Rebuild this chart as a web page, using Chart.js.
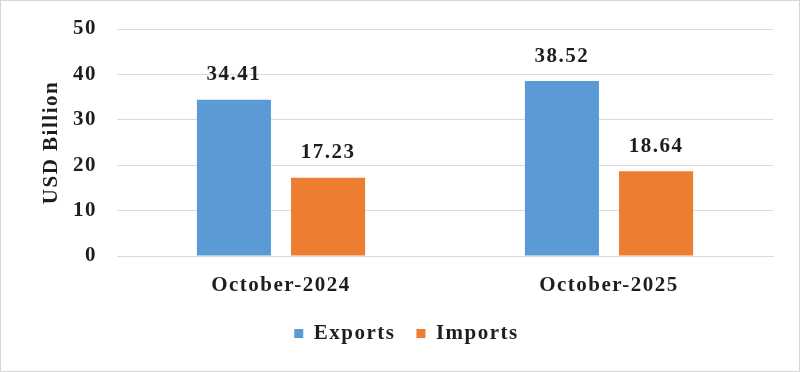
<!DOCTYPE html>
<html>
<head>
<meta charset="utf-8">
<script src="https://cdn.jsdelivr.net/npm/chart.js@4.4.1/dist/chart.umd.min.js"></script>
<style>
  html, body { margin: 0; padding: 0; background: #fff; }
  .frame { width: 800px; height: 372px; box-sizing: border-box; border: 1px solid #d6d6d6; }
  .frame canvas { display: block; }
</style>
</head>
<body>
<div class="frame">
  <canvas id="tradeChart" width="798" height="370"></canvas>
</div>
<script>
// Monthly trade, USD billion
const months = ['October-2024', 'October-2025'];
const exportsValues = [34.41, 38.52];
const importsValues = [17.23, 18.64];
const yTicks = [0, 10, 20, 30, 40, 50];

const textColor = '#1e1e1e';
const serifBold = { family: '"Liberation Serif", "Times New Roman", serif', weight: 'bold', size: 21 };

// the source picture has slightly wide lettering
const wideText = {
  id: 'wideText',
  beforeInit(chart) { chart.ctx.letterSpacing = '1.5px'; },
  beforeDraw(chart) { chart.ctx.letterSpacing = '1.5px'; }
};

// simple value labels above each bar (no datalabels plugin offline)
const barValueLabels = {
  id: 'barValueLabels',
  afterDatasetsDraw(chart) {
    const ctx = chart.ctx;
    ctx.save();
    ctx.font = 'bold 21px "Liberation Serif", "Times New Roman", serif';
    ctx.fillStyle = textColor;
    ctx.textAlign = 'center';
    ctx.textBaseline = 'middle';
    chart.data.datasets.forEach((ds, i) => {
      chart.getDatasetMeta(i).data.forEach((bar, j) => {
        ctx.fillText(ds.data[j].toFixed(2), bar.x, bar.y - 25);
      });
    });
    ctx.restore();
  }
};

new Chart(document.getElementById('tradeChart'), {
  type: 'bar',
  data: {
    labels: months,
    datasets: [
      { label: 'Exports', data: exportsValues, backgroundColor: '#5B9BD5' },
      { label: 'Imports', data: importsValues, backgroundColor: '#ED7D31' }
    ]
  },
  options: {
    responsive: false,
    animation: false,
    categoryPercentage: 0.574,
    barPercentage: 0.787,
    layout: { padding: { top: 28, right: 26, bottom: 17, left: 18 } },
    plugins: {
      tooltip: { enabled: false },
      legend: {
        position: 'bottom',
        labels: {
          color: textColor,
          font: serifBold,
          boxWidth: 9,
          boxHeight: 9,
          padding: 21
        }
      }
    },
    scales: {
      x: {
        grid: { display: false },
        border: { color: '#d9d9d9' },
        ticks: { color: textColor, font: serifBold, padding: 9 },
        afterFit(scale) { scale.height = 46; }
      },
      y: {
        min: 0,
        max: 50,
        afterBuildTicks(scale) { scale.ticks = yTicks.map(v => ({ value: v })); },
        grid: { color: '#d9d9d9', drawTicks: false },
        border: { display: false },
        ticks: { color: textColor, font: serifBold, padding: 20 },
        title: {
          display: true,
          text: 'USD Billion',
          color: textColor,
          font: serifBold,
          padding: { top: 20, bottom: 0 }
        },
        afterFit(scale) {
          scale.width = 98;
          scale.paddingTop = 0;
          scale.paddingBottom = 0;
        }
      }
    }
  },
  plugins: [wideText, barValueLabels]
});
</script>
</body>
</html>
